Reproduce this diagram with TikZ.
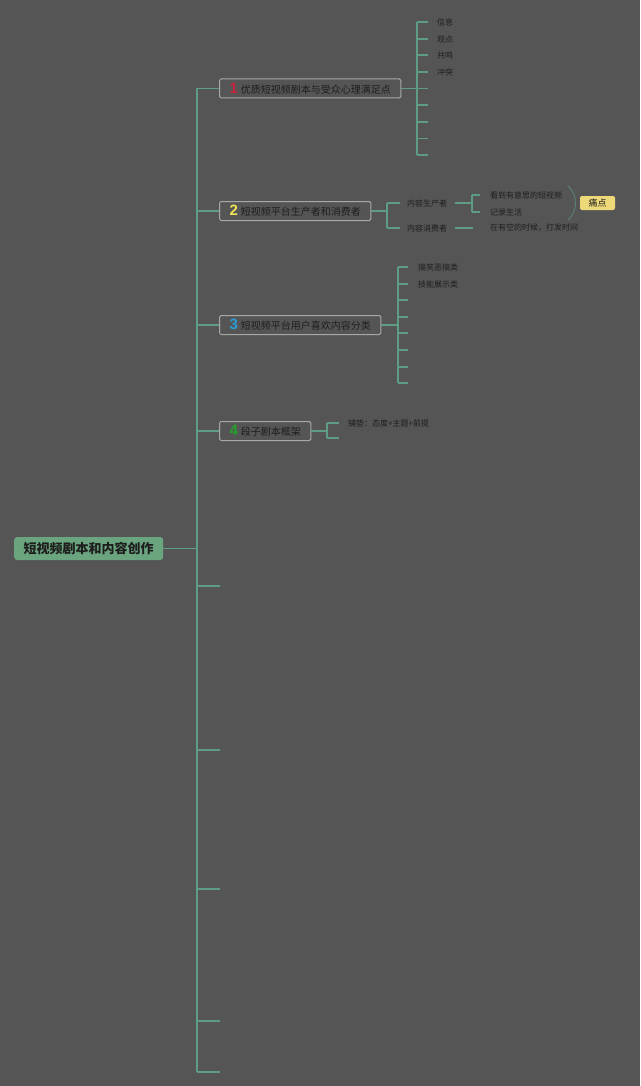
\documentclass[tikz,border=0pt]{standalone}
\usepackage{fontspec}
\setmainfont{Noto Sans CJK SC}
\newfontfamily\numfont{Liberation Sans}
\usetikzlibrary{positioning}
\definecolor{bgcol}{HTML}{555555}
\definecolor{linkcol}{HTML}{5E9C84}
\definecolor{boxline}{HTML}{A8A8A8}
\definecolor{textdark}{HTML}{1E1E1E}
\definecolor{rootgreen}{HTML}{6AA57F}
\definecolor{painyellow}{HTML}{EDD97A}
\definecolor{numred}{HTML}{C8243C}
\definecolor{numyellow}{HTML}{F2E255}
\definecolor{numblue}{HTML}{2A9ED8}
\definecolor{numgreen}{HTML}{22A22A}
\newcommand{\topicnum}[2]{{\numfont\bfseries\fontsize{15}{15}\selectfont\color{#1}#2}\hspace{3pt}}
\tikzset{
  link/.style={draw=linkcol, line width=1.2pt},
  topic/.style={draw=boxline, fill=bgcol, rounded corners=1.5pt, line width=1pt, anchor=west,
    minimum height=19pt, inner xsep=10pt, inner ysep=0pt, text=textdark,
    font=\fontsize{10}{12}\selectfont},
  leaf/.style={anchor=west, inner sep=0pt, text=textdark, font=\fontsize{8}{9}\selectfont},
}
\begin{document}
\begin{tikzpicture}[x=1pt, y=-1pt]
  \fill[bgcol] (0,0) rectangle (640,1086);
  \useasboundingbox (0,0) rectangle (640,1086);

  % root and trunk
  \node[fill=rootgreen, rounded corners=3pt, anchor=west, minimum width=149pt, minimum height=23pt,
    inner sep=0pt, text=textdark, font=\fontsize{13}{15}\selectfont\bfseries] (root) at (14,548.5) {短视频剧本和内容创作};
  \coordinate (trunk) at (197,548.5);
  \draw[link] (root.east) -- (trunk);

  \node[topic] (t1) at (219,88.5) {\topicnum{numred}{1}优质短视频剧本与受众心理满足点};
  \node[topic] (t2) at (219,211) {\topicnum{numyellow}{2}短视频平台生产者和消费者};
  \node[topic] (t3) at (219,325) {\topicnum{numblue}{3}短视频平台用户喜欢内容分类};
  \node[topic] (t4) at (219,431) {\topicnum{numgreen}{4}段子剧本框架};

  \foreach \y [count=\i] in {586,750,889,1021,1072}
    \coordinate (e\i) at (220,\y);
  \draw[link] (trunk |- t1) -- (trunk |- e5);
  \foreach \t in {t1,t2,t3,t4}
    \draw[link] (trunk |- \t) -- (\t.west);
  \foreach \i in {1,...,5}
    \draw[link] (trunk |- e\i) -- (e\i);

  % topic 1
  \coordinate (b1) at (417,88.5);
  \foreach \y [count=\i] in {22,39,55,72,88.5,105,122,138.5,155}
    \coordinate (k1-\i) at (428,\y);
  \draw[link] (t1.east) -- (b1);
  \draw[link] (b1 |- k1-1) -- (b1 |- k1-9);
  \foreach \i in {1,...,9}
    \draw[link] (b1 |- k1-\i) -- (k1-\i);
  \node[leaf, right=9pt of k1-1] (xinxi) {信息};
  \node[leaf, right=9pt of k1-2] (guandian) {观点};
  \node[leaf, right=9pt of k1-3] (gongming) {共鸣};
  \node[leaf, right=9pt of k1-4] (chongtu) {冲突};

  % topic 2
  \coordinate (b2) at (387,211);
  \coordinate (k2-1) at (400,203);
  \coordinate (k2-2) at (400,228);
  \draw[link] (t2.east) -- (b2);
  \draw[link] (b2 |- k2-1) -- (b2 |- k2-2);
  \foreach \i in {1,2}
    \draw[link] (b2 |- k2-\i) -- (k2-\i);
  \node[leaf, right=7pt of k2-1] (maker) {内容生产者};
  \node[leaf, right=7pt of k2-2] (user) {内容消费者};
  \coordinate (b2m) at (472,203);
  \coordinate (k2m-1) at (480,195);
  \coordinate (k2m-2) at (480,212);
  \draw[link] ([xshift=8pt]maker.east) -- (b2m);
  \draw[link] (b2m |- k2m-1) -- (b2m |- k2m-2);
  \foreach \i in {1,2}
    \draw[link] (b2m |- k2m-\i) -- (k2m-\i);
  \node[leaf, right=10pt of k2m-1] (kandao) {看到有意思的短视频};
  \node[leaf, right=10pt of k2m-2] (jilu) {记录生活};
  \node[leaf] (kongxian) at (490,228) {在有空的时候，打发时间};
  \draw[link] ([xshift=8pt]user.east) -- ([xshift=-17pt]kongxian.west);
  \node[fill=painyellow, rounded corners=2pt, minimum width=35pt, minimum height=14pt, inner sep=0pt,
    text=textdark, font=\fontsize{9}{10}\selectfont] (pain) at (597.5,203) {痛点};
  \draw[draw=linkcol!70!bgcol, line width=0.8pt] (568,186) .. controls (578,195) and (578,211) .. (568,220);

  % topic 3
  \coordinate (b3) at (398,325);
  \foreach \y [count=\i] in {267,284,300,317,333,350,367,383}
    \coordinate (k3-\i) at (408,\y);
  \draw[link] (t3.east) -- (b3);
  \draw[link] (b3 |- k3-1) -- (b3 |- k3-8);
  \foreach \i in {1,...,8}
    \draw[link] (b3 |- k3-\i) -- (k3-\i);
  \node[leaf, right=10pt of k3-1] (gaoxiao) {搞笑恶搞类};
  \node[leaf, right=10pt of k3-2] (jineng) {技能展示类};

  % topic 4
  \coordinate (b4) at (327,431);
  \coordinate (k4-1) at (339,423);
  \coordinate (k4-2) at (339,438);
  \draw[link] (t4.east) -- (b4);
  \draw[link] (b4 |- k4-1) -- (b4 |- k4-2);
  \foreach \i in {1,2}
    \draw[link] (b4 |- k4-\i) -- (k4-\i);
  \node[leaf, right=9pt of k4-1] (pudian) {铺垫：态度+主题+前提};
\end{tikzpicture}
\end{document}
